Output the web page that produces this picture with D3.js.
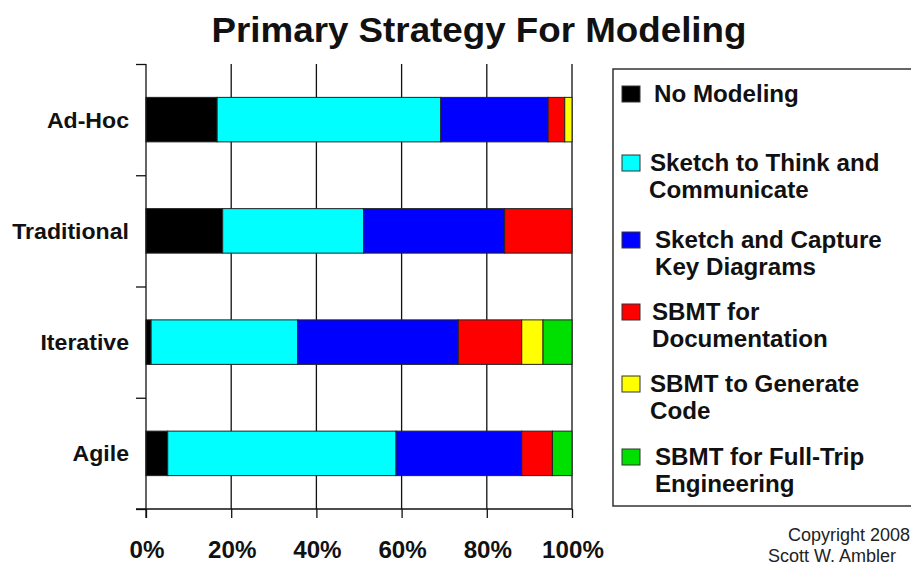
<!DOCTYPE html>
<html>
<head>
<meta charset="utf-8">
<script src="https://cdn.jsdelivr.net/npm/d3@7"></script>
<style>
  html, body { margin: 0; padding: 0; background: #ffffff; }
  svg { display: block; }
  text { font-family: Arial, "Liberation Sans", sans-serif; }
</style>
</head>
<body>
<svg id="chart" width="911" height="565"></svg>
<script>
// Process categories, top to bottom
const categories = ["Ad-Hoc", "Traditional", "Iterative", "Agile"];

// Share of respondents (%) per modeling strategy, one value per category
const noModeling    = [16.7, 18.0, 1.2, 5.1];
const sketchThink   = [52.5, 33.1, 34.4, 53.6];
const sketchCapture = [25.2, 33.1, 37.7, 29.5];
const sbmtDocs      = [3.9, 15.8, 14.9, 7.2];
const sbmtCode      = [1.7, 0.0, 5.0, 0.0];
const sbmtFullTrip  = [0.0, 0.0, 6.8, 4.6];

const seriesNames = [
  ["No Modeling"],
  ["Sketch to Think and", "Communicate"],
  ["Sketch and Capture", "Key Diagrams"],
  ["SBMT for", "Documentation"],
  ["SBMT to Generate", "Code"],
  ["SBMT for Full-Trip", "Engineering"]
];
const seriesValues = [noModeling, sketchThink, sketchCapture, sbmtDocs, sbmtCode, sbmtFullTrip];
const seriesColors = ["#000000", "#00ffff", "#0000ff", "#ff0000", "#ffff00", "#00e000"];

const xTicks = [0, 20, 40, 60, 80, 100];
const xTickLabels = ["0%", "20%", "40%", "60%", "80%", "100%"];

const titleText = "Primary Strategy For Modeling";
const copyrightLines = ["Copyright 2008", "Scott W. Ambler"];

// Slight horizontal stretch used for the bold lettering
const SX = 1.05;

const svg = d3.select("#chart");

const plot = { left: 146, right: 572, top: 64, bottom: 509 };

const x = d3.scaleLinear().domain([0, 100]).range([plot.left, plot.right]);
const y = d3.scaleBand().domain(categories).range([plot.top, plot.bottom])
  .paddingInner(0.6).paddingOuter(0.3);
const yEdge = d3.scaleLinear().domain([0, categories.length]).range([plot.top, plot.bottom]);

function stretchedText(sel, px, py, anchor) {
  return sel.append("text")
    .attr("transform", `translate(${px},${py}) scale(${SX},1)`)
    .attr("text-anchor", anchor);
}

// Title
stretchedText(svg, 479, 42, "middle")
  .attr("font-size", 35).attr("font-weight", "bold").attr("fill", "#111")
  .text(titleText);

// Vertical gridlines
svg.append("g").selectAll("line")
  .data(xTicks.filter(d => d > 0))
  .join("line")
  .attr("x1", d => x(d)).attr("x2", d => x(d))
  .attr("y1", plot.top).attr("y2", plot.bottom)
  .attr("stroke", "#111").attr("stroke-width", 1.3);

// Stacked bars
const rows = categories.map((c, i) => {
  const r = { category: c };
  seriesValues.forEach((vals, s) => { r["s" + s] = vals[i]; });
  return r;
});
const keys = seriesValues.map((_, s) => "s" + s);
const stacked = d3.stack().keys(keys)(rows);

svg.append("g").selectAll("g")
  .data(stacked)
  .join("g")
  .attr("fill", (d, i) => seriesColors[i])
  .selectAll("rect")
  .data(d => d.filter(p => p[1] - p[0] > 0))
  .join("rect")
  .attr("x", p => x(p[0]))
  .attr("width", p => x(p[1]) - x(p[0]))
  .attr("y", p => y(p.data.category))
  .attr("height", y.bandwidth())
  .attr("stroke", "#222").attr("stroke-width", 1);

// Bottom axis with ticks hanging below
const xAxis = svg.append("g")
  .attr("transform", `translate(0,${plot.bottom})`)
  .call(d3.axisBottom(x).tickValues(xTicks).tickSize(9).tickSizeOuter(0).tickFormat(""));
xAxis.select(".domain").attr("stroke", "#111").attr("stroke-width", 1.3)
  .attr("d", `M${plot.left - 10},0H${plot.right}`);
xAxis.selectAll(".tick line").attr("stroke", "#111").attr("stroke-width", 1.3);

// Left axis with ticks at category boundaries
const yAxis = svg.append("g")
  .attr("transform", `translate(${plot.left},0)`)
  .call(d3.axisLeft(yEdge).ticks(categories.length).tickSize(10).tickSizeOuter(0).tickFormat(""));
yAxis.select(".domain").attr("stroke", "#111").attr("stroke-width", 1.3)
  .attr("d", `M0,${plot.top}V${plot.bottom + 9}`);
yAxis.selectAll(".tick line").attr("stroke", "#111").attr("stroke-width", 1.3);

// Tick labels
xTicks.forEach((t, i) => {
  stretchedText(svg, x(t) + 1, 558, "middle")
    .attr("font-size", 23).attr("font-weight", "bold").attr("fill", "#111")
    .text(xTickLabels[i]);
});
categories.forEach(c => {
  stretchedText(svg, 129, y(c) + y.bandwidth() / 2 + 8, "end")
    .attr("font-size", 22).attr("font-weight", "bold").attr("fill", "#111")
    .text(c);
});

// Legend
const legend = svg.append("g");
legend.append("rect")
  .attr("x", 613).attr("y", 69).attr("width", 320).attr("height", 437)
  .attr("fill", "#fff").attr("stroke", "#333").attr("stroke-width", 1.5);

const legendRowY = [94, 163, 240, 312, 384, 457];
const legendTextX = [654, 650, 655, 652, 650, 655];
seriesNames.forEach((lines, i) => {
  const cy = legendRowY[i];
  legend.append("rect")
    .attr("x", 622).attr("y", cy - 8).attr("width", 18).attr("height", 16)
    .attr("fill", seriesColors[i]).attr("stroke", "#333").attr("stroke-width", 1);
  lines.forEach((ln, j) => {
    stretchedText(legend, legendTextX[i] - (j > 0 && i === 1 ? 1 : 0), cy + 8 + j * 27, "start")
      .attr("font-size", 23).attr("font-weight", "bold").attr("fill", "#111")
      .text(ln);
  });
});

// Copyright note
copyrightLines.forEach((ln, j) => {
  svg.append("text")
    .attr("x", 788 - j * 20).attr("y", 541 + j * 21)
    .attr("font-size", 18).attr("fill", "#222")
    .text(ln);
});
</script>
</body>
</html>
